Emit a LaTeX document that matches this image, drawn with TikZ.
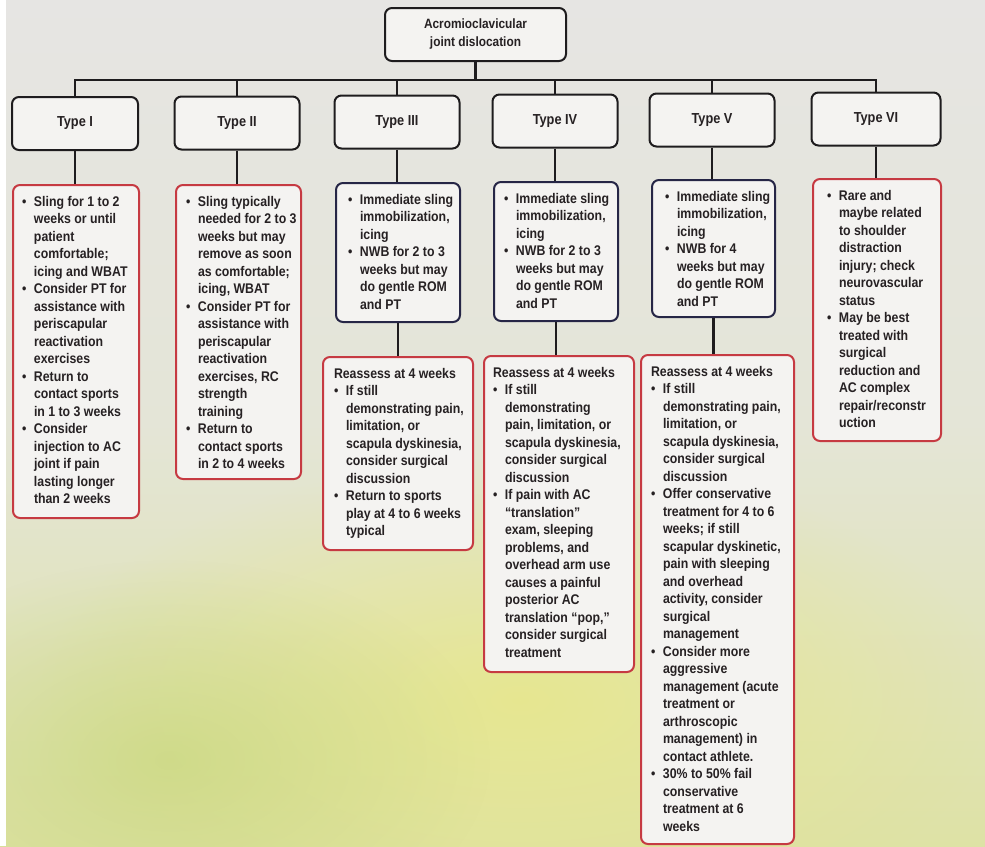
\documentclass[tikz,border=0pt]{standalone}
\usepackage{fontspec}
\newfontfamily\tf{Liberation Sans}[FakeStretch=0.88]
\usetikzlibrary{fadings}
\tikzfading[name=blobfade, inner color=transparent!0, outer color=transparent!100]
\definecolor{bgtop}{RGB}{230,229,227}
\definecolor{bgmid}{RGB}{228,229,215}
\definecolor{bgbot}{RGB}{222,226,165}
\definecolor{blobg}{RGB}{200,215,125}
\definecolor{bloby}{RGB}{232,232,135}
\definecolor{boxfill}{RGB}{244,243,241}
\definecolor{tblack}{RGB}{30,28,30}
\definecolor{navy}{RGB}{38,38,70}
\definecolor{redb}{RGB}{198,58,66}
\definecolor{txt}{RGB}{38,33,35}

\newcommand{\bl}[1]{\par\mbox{\makebox[12pt][l]{\textbullet}#1}}
\newcommand{\cl}[1]{\par\mbox{\hspace*{12pt}#1}}
\newcommand{\hl}[1]{\par\mbox{#1}}
\newcommand{\bx}[4]{\parbox[c][#2pt][t]{#1pt}{\vspace*{11pt}\leftskip=#3pt\relax#4\par}}

\tikzset{
  base/.style={line width=2pt, rounded corners=7pt, fill=boxfill, inner sep=0pt,
    text=txt, font=\tf\bfseries\fontsize{14}{17.5}\selectfont},
  tbox/.style={base, draw=tblack, anchor=center, minimum width=125pt, minimum height=53pt,
    font=\tf\bfseries\fontsize{14.5}{17.5}\selectfont},
  nbox/.style={base, draw=navy, anchor=north west},
  rbox/.style={base, draw=redb, anchor=north west},
  conn/.style={line width=2.2pt, draw=tblack}
}

\begin{document}
\begin{tikzpicture}[x=1pt,y=-1pt]
\useasboundingbox (0,0) rectangle (985,846);
% background
\shade[top color=bgtop, bottom color=bgbot, middle color=bgmid] (0,0) rectangle (985,846);
\fill[bloby, path fading=blobfade, opacity=0.8] (520,700) ellipse [x radius=480pt, y radius=240pt];
\fill[blobg, path fading=blobfade, opacity=0.7] (170,760) ellipse [x radius=320pt, y radius=200pt];
\fill[white] (0,0) rectangle (6,846);

% top node
\node[tbox, minimum width=181pt, align=center, font=\tf\bfseries\fontsize{13.5}{18}\selectfont] (top) at (475.5,34.5) {Acromioclavicular\\joint dislocation};

% type nodes
\node[tbox, minimum width=126pt] (t1) at (75,123.5) {Type I};
\node[tbox] (t2) at (237,123) {Type II};
\node[tbox] (t3) at (397,122) {Type III};
\node[tbox] (t4) at (555,121) {Type IV};
\node[tbox] (t5) at (712,120) {Type V};
\node[tbox, minimum width=129pt] (t6) at (876,119) {Type VI};

% content boxes
\node[rbox] (c1) at (12,184) {\bx{126}{333}{9}{%
\bl{Sling for 1 to 2}\cl{weeks or until}\cl{patient}\cl{comfortable;}\cl{icing and WBAT}%
\bl{Consider PT for}\cl{assistance with}\cl{periscapular}\cl{reactivation}\cl{exercises}%
\bl{Return to}\cl{contact sports}\cl{in 1 to 3 weeks}%
\bl{Consider}\cl{injection to AC}\cl{joint if pain}\cl{lasting longer}\cl{than 2 weeks}}};

\node[rbox] (c2) at (175,184) {\bx{125}{294}{10}{%
\bl{Sling typically}\cl{needed for 2 to 3}\cl{weeks but may}\cl{remove as soon}\cl{as comfortable;}\cl{icing, WBAT}%
\bl{Consider PT for}\cl{assistance with}\cl{periscapular}\cl{reactivation}\cl{exercises, RC}\cl{strength}\cl{training}%
\bl{Return to}\cl{contact sports}\cl{in 2 to 4 weeks}}};

\node[nbox] (c3) at (335,182) {\bx{124}{139}{12}{%
\bl{Immediate sling}\cl{immobilization,}\cl{icing}%
\bl{NWB for 2 to 3}\cl{weeks but may}\cl{do gentle ROM}\cl{and PT}}};

\node[nbox] (c4) at (493,181) {\bx{124}{139}{10}{%
\bl{Immediate sling}\cl{immobilization,}\cl{icing}%
\bl{NWB for 2 to 3}\cl{weeks but may}\cl{do gentle ROM}\cl{and PT}}};

\node[nbox] (c5) at (651,179) {\bx{123}{137}{13}{%
\bl{Immediate sling}\cl{immobilization,}\cl{icing}%
\bl{NWB for 4}\cl{weeks but may}\cl{do gentle ROM}\cl{and PT}}};

\node[rbox] (c6) at (812,178) {\bx{128}{262}{14}{%
\bl{Rare and}\cl{maybe related}\cl{to shoulder}\cl{distraction}\cl{injury; check}\cl{neurovascular}\cl{status}%
\bl{May be best}\cl{treated with}\cl{surgical}\cl{reduction and}\cl{AC complex}\cl{repair/reconstr}\cl{uction}}};

% reassess boxes
\node[rbox] (r3) at (322,356) {\bx{150}{193}{11}{%
\hl{Reassess at 4 weeks}%
\bl{If still}\cl{demonstrating pain,}\cl{limitation, or}\cl{scapula dyskinesia,}\cl{consider surgical}\cl{discussion}%
\bl{Return to sports}\cl{play at 4 to 6 weeks}\cl{typical}}};

\node[rbox] (r4) at (483,355) {\bx{150}{316}{9}{%
\hl{Reassess at 4 weeks}%
\bl{If still}\cl{demonstrating}\cl{pain, limitation, or}\cl{scapula dyskinesia,}\cl{consider surgical}\cl{discussion}%
\bl{If pain with AC}\cl{“translation”}\cl{exam, sleeping}\cl{problems, and}\cl{overhead arm use}\cl{causes a painful}\cl{posterior AC}\cl{translation “pop,”}\cl{consider surgical}\cl{treatment}}};

\node[rbox] (r5) at (640,354) {\bx{153}{489}{10}{%
\hl{Reassess at 4 weeks}%
\bl{If still}\cl{demonstrating pain,}\cl{limitation, or}\cl{scapula dyskinesia,}\cl{consider surgical}\cl{discussion}%
\bl{Offer conservative}\cl{treatment for 4 to 6}\cl{weeks; if still}\cl{scapular dyskinetic,}\cl{pain with sleeping}\cl{and overhead}\cl{activity, consider}\cl{surgical}\cl{management}%
\bl{Consider more}\cl{aggressive}\cl{management (acute}\cl{treatment or}\cl{arthroscopic}\cl{management) in}\cl{contact athlete.}%
\bl{30\% to 50\% fail}\cl{conservative}\cl{treatment at 6}\cl{weeks}}};

% connectors
\draw[conn] (top.south) -- ++(0,18) coordinate (bus);
\draw[conn] (t1.north) -- (t1.north |- bus) -- (t6.north |- bus) -- (t6.north);
\foreach \k in {2,3,4,5} {\draw[conn] (t\k.north) -- (t\k.north |- bus);}
\foreach \k in {1,2,3,4,5,6} {\draw[conn] (t\k.south) -- (t\k.south |- c\k.north);}
\foreach \k in {3,4,5} {\draw[conn] (c\k.south) -- (c\k.south |- r\k.north);}
\end{tikzpicture}
\end{document}
